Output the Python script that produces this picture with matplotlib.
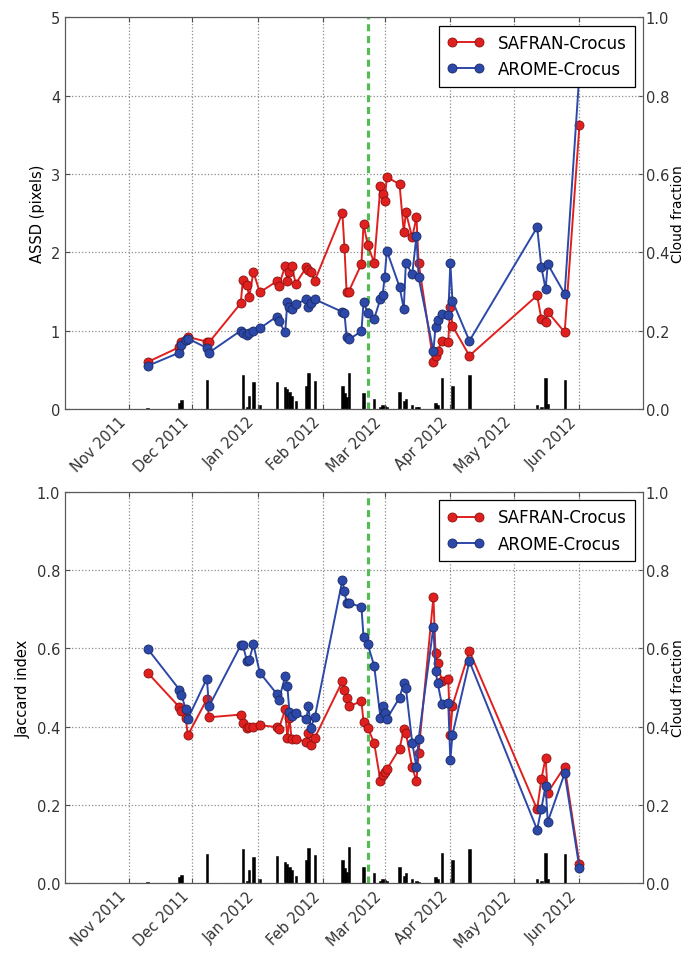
import datetime as dt

import matplotlib
matplotlib.use('Agg')
import matplotlib.pyplot as plt
import matplotlib.dates as mdates

# observation dates (shared by both series and both panels)
dates = ['2011-11-10', '2011-11-25', '2011-11-26', '2011-11-28', '2011-11-29',
         '2011-12-08', '2011-12-09', '2011-12-24', '2011-12-25', '2011-12-27',
         '2011-12-28', '2011-12-30', '2012-01-02', '2012-01-10', '2012-01-11',
         '2012-01-14', '2012-01-15', '2012-01-16', '2012-01-17', '2012-01-19',
         '2012-01-24', '2012-01-25', '2012-01-26', '2012-01-28', '2012-02-10',
         '2012-02-11', '2012-02-12', '2012-02-13', '2012-02-19', '2012-02-20',
         '2012-02-22', '2012-02-25', '2012-02-28', '2012-02-29', '2012-03-01',
         '2012-03-02', '2012-03-08', '2012-03-10', '2012-03-11', '2012-03-14',
         '2012-03-16', '2012-03-17', '2012-03-24', '2012-03-25', '2012-03-26',
         '2012-03-28', '2012-03-31', '2012-04-01', '2012-04-02', '2012-04-10',
         '2012-05-12', '2012-05-14', '2012-05-16', '2012-05-17', '2012-05-25',
         '2012-06-01']

assd_safran = [0.60, 0.79, 0.85, 0.88, 0.92, 0.86, 0.85, 1.35, 1.65, 1.58,
               1.43, 1.75, 1.49, 1.63, 1.57, 1.83, 1.64, 1.75, 1.83, 1.60,
               1.81, 1.78, 1.75, 1.64, 2.50, 2.06, 1.49, 1.50, 1.85, 2.36,
               2.09, 1.87, 2.85, 2.75, 2.66, 2.96, 2.87, 2.26, 2.51, 2.19,
               2.45, 1.87, 0.60, 0.68, 0.74, 0.87, 0.86, 1.30, 1.06, 0.68,
               1.45, 1.15, 1.11, 1.24, 0.98, 3.63]

assd_arome = [0.55, 0.72, 0.82, 0.88, 0.90, 0.78, 0.72, 1.00, 0.97, 0.94,
              0.97, 1.00, 1.03, 1.18, 1.12, 0.98, 1.36, 1.30, 1.28, 1.34,
              1.40, 1.30, 1.35, 1.40, 1.24, 1.22, 0.92, 0.89, 0.99, 1.36,
              1.23, 1.15, 1.41, 1.45, 1.69, 2.02, 1.56, 1.28, 1.87, 1.72,
              2.21, 1.68, 0.74, 1.05, 1.14, 1.21, 1.20, 1.86, 1.38, 0.87,
              2.32, 1.81, 1.53, 1.85, 1.47, 4.30]

jaccard_safran = [0.538, 0.450, 0.440, 0.423, 0.378, 0.470, 0.424, 0.431, 0.410, 0.397,
                  0.400, 0.400, 0.404, 0.399, 0.395, 0.444, 0.372, 0.423, 0.369, 0.369,
                  0.361, 0.385, 0.353, 0.372, 0.516, 0.495, 0.474, 0.452, 0.465, 0.412,
                  0.397, 0.359, 0.261, 0.276, 0.285, 0.291, 0.344, 0.393, 0.385, 0.296,
                  0.261, 0.334, 0.731, 0.589, 0.563, 0.516, 0.522, 0.380, 0.454, 0.593,
                  0.189, 0.266, 0.321, 0.232, 0.298, 0.049]

jaccard_arome = [0.599, 0.495, 0.482, 0.444, 0.420, 0.523, 0.452, 0.608, 0.608, 0.567,
                 0.571, 0.610, 0.538, 0.484, 0.468, 0.529, 0.505, 0.437, 0.427, 0.436,
                 0.419, 0.454, 0.397, 0.425, 0.774, 0.746, 0.716, 0.716, 0.706, 0.629,
                 0.610, 0.556, 0.423, 0.452, 0.436, 0.420, 0.474, 0.512, 0.499, 0.359,
                 0.296, 0.368, 0.655, 0.542, 0.512, 0.457, 0.461, 0.315, 0.380, 0.567,
                 0.137, 0.191, 0.249, 0.157, 0.281, 0.038]

cloud_fraction = [0.003, 0.015, 0.022, 0.0, 0.0, 0.075, 0.0, 0.0, 0.088, 0.005,
                  0.034, 0.068, 0.010, 0.070, 0.0, 0.055, 0.050, 0.043, 0.034, 0.020,
                  0.060, 0.091, 0.0, 0.072, 0.060, 0.040, 0.030, 0.092, 0.0, 0.041,
                  0.0, 0.026, 0.005, 0.010, 0.008, 0.005, 0.043, 0.020, 0.026, 0.010,
                  0.006, 0.004, 0.0, 0.015, 0.010, 0.078, 0.0, 0.0, 0.060, 0.088,
                  0.010, 0.005, 0.078, 0.012, 0.074, 0.0]

month_ticks = ['2011-11-01', '2011-12-01', '2012-01-01', '2012-02-01',
               '2012-03-01', '2012-04-01', '2012-05-01', '2012-06-01']
x_start = '2011-10-02'
x_end = '2012-07-01'
marker_date = '2012-02-22'


def to_date(s):
    return dt.datetime.strptime(s, '%Y-%m-%d')


d = [to_date(s) for s in dates]
ticks = [to_date(s) for s in month_ticks]

red = '#e0201e'
blue = '#2c48a8'

fig = plt.figure(figsize=(6.88, 9.54), dpi=100)
ax_top = fig.add_axes([0.0945, 0.5702, 0.8401, 0.4106])
ax_bot = fig.add_axes([0.0945, 0.0730, 0.8401, 0.4105])


def draw_panel(ax, safran, arome, ylabel, ymax, yticks, yfmt):
    tw = ax.twinx()
    tw.bar(d, cloud_fraction, width=1.1, color='k', edgecolor='k', linewidth=0.4)
    tw.set_ylim(0, 1)
    tw.set_yticks([0, 0.2, 0.4, 0.6, 0.8, 1.0])
    tw.set_yticklabels(['%.1f' % v for v in [0, 0.2, 0.4, 0.6, 0.8, 1.0]])
    tw.set_ylabel('Cloud fraction', fontsize=10, labelpad=1)
    tw.tick_params(direction='in', labelsize=10.5, pad=2, color='0.3', labelcolor='0.2')
    ax.set_zorder(tw.get_zorder() + 1)
    ax.patch.set_visible(False)

    ax.axvline(to_date(marker_date), color='#55bb55', lw=2.3, ls='--', dashes=(2.2, 1.5))
    ax.plot(d, safran, '-o', color=red, lw=1.4, ms=6.5, mec='#8a1010', mew=0.6,
            label='SAFRAN-Crocus')
    ax.plot(d, arome, '-o', color=blue, lw=1.4, ms=6.5, mec='#1a2a66', mew=0.6,
            label='AROME-Crocus')

    ax.set_xlim(to_date(x_start), to_date(x_end))
    ax.set_ylim(0, ymax)
    ax.set_yticks(yticks)
    ax.set_yticklabels([yfmt % v for v in yticks])
    ax.set_ylabel(ylabel, fontsize=10.5)
    ax.set_xticks(ticks)
    ax.xaxis.set_major_formatter(mdates.DateFormatter('%b %Y'))
    plt.setp(ax.get_xticklabels(), rotation=45, ha='right')
    ax.tick_params(direction='in', top=True, labelsize=10.5, color='0.3', labelcolor='0.2')
    ax.grid(True, color='0.55', linestyle=':', linewidth=0.9)
    for sp in list(ax.spines.values()) + list(tw.spines.values()):
        sp.set_color('0.35')

    leg = ax.legend(loc='upper right', numpoints=2, fontsize=12, fancybox=False,
                    framealpha=1, handlelength=2.2, borderpad=0.5)
    leg.get_frame().set_edgecolor('k')
    leg.get_frame().set_linewidth(0.9)


draw_panel(ax_top, assd_safran, assd_arome, 'ASSD (pixels)', 5, [0, 1, 2, 3, 4, 5], '%d')
draw_panel(ax_bot, jaccard_safran, jaccard_arome, 'Jaccard index', 1.0,
           [0, 0.2, 0.4, 0.6, 0.8, 1.0], '%.1f')

fig.savefig('out.png', dpi=100)
